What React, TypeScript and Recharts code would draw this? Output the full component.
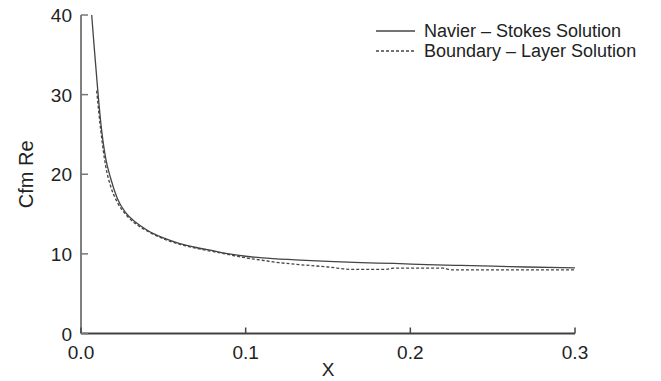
import React from "react";
import { LineChart, Line, XAxis, YAxis } from "recharts";

// Navier–Stokes solution (solid)
const nsX = [0.0065, 0.008, 0.01, 0.012, 0.015, 0.018, 0.022, 0.027, 0.033, 0.04, 0.05, 0.06, 0.07, 0.08, 0.09, 0.1, 0.11, 0.13, 0.15, 0.17, 0.19, 0.21, 0.23, 0.25, 0.27, 0.3];
const nsY = [40, 36, 31, 26.5, 22, 19.5, 17, 15.2, 14, 13, 12, 11.3, 10.8, 10.4, 10.0, 9.7, 9.5, 9.25, 9.05, 8.9, 8.8, 8.65, 8.55, 8.45, 8.35, 8.25];

// boundary-layer solution (dashed)
const blX = [0.0095, 0.012, 0.015, 0.018, 0.022, 0.027, 0.033, 0.04, 0.05, 0.06, 0.07, 0.08, 0.09, 0.1, 0.11, 0.12, 0.13, 0.15, 0.165, 0.185, 0.19, 0.22, 0.225, 0.3];
const blY = [30.5, 25.5, 21, 18.5, 16.5, 15, 13.8, 12.9, 11.9, 11.2, 10.7, 10.3, 9.9, 9.5, 9.2, 8.9, 8.7, 8.35, 8.05, 8.05, 8.2, 8.2, 8.0, 8.0];

const xTicks = [0, 0.1, 0.2, 0.3];
const yTicks = [0, 10, 20, 30, 40];

const series = [
  { name: "Navier \u2013 Stokes Solution", xs: nsX, ys: nsY, dash: undefined as string | undefined },
  { name: "Boundary \u2013 Layer Solution", xs: blX, ys: blY, dash: "3 2" },
];

const FONT = "'Liberation Sans', Arial, sans-serif";
const INK = "#222";

const XTick = (props: any) => {
  const { x, y, payload } = props;
  return (
    <g>
      <line x1={x} x2={x} y1={y} y2={y - 6} stroke="#444" strokeWidth={1.5} />
      <text x={x} y={y + 25} textAnchor="middle" fontSize={19} fontFamily={FONT} fill={INK}>
        {payload.value.toFixed(1)}
      </text>
    </g>
  );
};

const YTick = (props: any) => {
  const { x, y, payload } = props;
  return (
    <g>
      <line x1={x} x2={x + 7} y1={y} y2={y} stroke="#777" strokeWidth={1.5} />
      <text x={x - 9} y={y + 7} textAnchor="end" fontSize={19} fontFamily={FONT} fill={INK}>
        {payload.value}
      </text>
    </g>
  );
};

// legend drawn outside the chart so it doesn't take space from the plot
const ChartLegend = () => (
  <div
    style={{
      position: "absolute",
      left: 376,
      top: 21,
      fontFamily: FONT,
      fontSize: 18,
      lineHeight: "20px",
      color: INK,
    }}
  >
    {series.map((s) => (
      <div key={s.name} style={{ display: "flex", alignItems: "center", whiteSpace: "nowrap", height: 20 }}>
        <svg width={48} height={20}>
          <line x1={0} x2={39} y1={10} y2={10} stroke="#444" strokeWidth={1.3} strokeDasharray={s.dash} />
        </svg>
        <span>{s.name}</span>
      </div>
    ))}
  </div>
);

export default function App() {
  return (
    <div style={{ position: "absolute", left: 0, top: 0, width: 661, height: 381, background: "#fff" }}>
      <LineChart width={661} height={381} margin={{ top: 15, right: 86, bottom: 17.5, left: 21 }}>
        <XAxis
          type="number"
          dataKey="x"
          domain={[0, 0.3]}
          ticks={xTicks}
          allowDataOverflow
          tick={<XTick />}
          tickSize={0}
          tickMargin={0}
          tickLine={false}
          height={30}
          axisLine={{ stroke: "#404040", strokeWidth: 2 }}
          label={(p: any) => {
            const vb = p.viewBox;
            return (
              <text x={vb.x + vb.width / 2} y={376} textAnchor="middle" fontSize={19} fontFamily={FONT} fill={INK}>
                X
              </text>
            );
          }}
        />
        <YAxis
          type="number"
          dataKey="y"
          domain={[0, 40]}
          ticks={yTicks}
          tick={<YTick />}
          tickSize={0}
          tickMargin={0}
          tickLine={false}
          width={60}
          axisLine={{ stroke: "#808080", strokeWidth: 2 }}
          label={(p: any) => {
            const vb = p.viewBox;
            const cy = vb.y + vb.height / 2;
            return (
              <text x={33} y={cy} transform={`rotate(-90, 33, ${cy})`} textAnchor="middle" fontSize={20} fontFamily={FONT} fill={INK}>
                Cfm Re
              </text>
            );
          }}
        />
        {series.map((s) => (
          <Line
            key={s.name}
            name={s.name}
            data={s.xs.map((x, i) => ({ x, y: s.ys[i] }))}
            dataKey="y"
            type="monotone"
            stroke="#444"
            strokeWidth={1.3}
            strokeDasharray={s.dash}
            dot={false}
            isAnimationActive={false}
          />
        ))}
      </LineChart>
      <ChartLegend />
    </div>
  );
}
